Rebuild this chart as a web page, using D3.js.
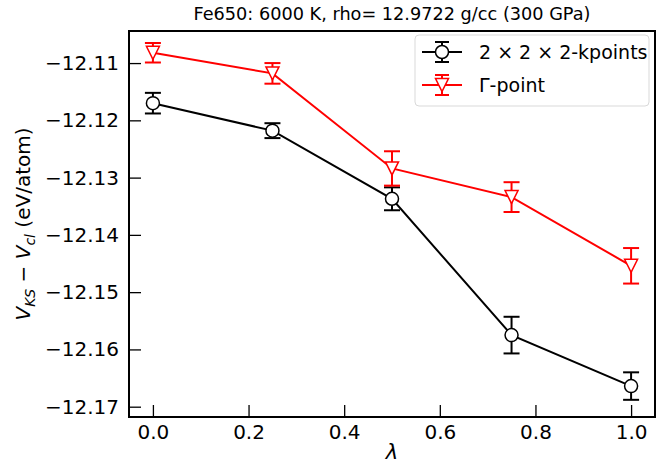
<!DOCTYPE html>
<html>
<head>
<meta charset="utf-8">
<script src="https://cdn.jsdelivr.net/npm/d3@7"></script>
<style>
  body { margin: 0; background: #fff; }
  svg { font-family: "DejaVu Sans", sans-serif; }
</style>
</head>
<body>
<div id="chart"></div>
<script>
// lambda values
const lambdas = [0.0, 0.25, 0.5, 0.75, 1.0];
// 2x2x2 k-points series
const kpointsVals = [-12.1170, -12.1218, -12.1337, -12.1575, -12.1664];
const kpointsErr = [0.0018, 0.0013, 0.0020, 0.0032, 0.0024];
// Gamma-point series
const gammaVals = [-12.1082, -12.1118, -12.1284, -12.1334, -12.1454];
const gammaErr = [0.0017, 0.0018, 0.0030, 0.0026, 0.0031];
// ticks
const xTicks = [0.0, 0.2, 0.4, 0.6, 0.8, 1.0];
const yTicks = [-12.17, -12.16, -12.15, -12.14, -12.13, -12.12, -12.11];

const W = 672, H = 465;
const margin = {top: 31, right: 17, bottom: 48, left: 129};
const width = W - margin.left - margin.right;
const height = H - margin.top - margin.bottom;

const svg = d3.select("#chart").append("svg")
    .attr("width", W)
    .attr("height", H);

const g = svg.append("g")
    .attr("transform", `translate(${margin.left},${margin.top})`);

const x = d3.scaleLinear().domain([-0.05, 1.05]).range([0, width]);
const y = d3.scaleLinear().domain([-12.1718, -12.1044]).range([height, 0]);

// Axes with inward ticks
const xAxis = g.append("g")
    .attr("transform", `translate(0,${height})`)
    .call(d3.axisBottom(x).tickValues(xTicks).tickFormat(d3.format(".1f")).tickSize(-12).tickPadding(8));
const yAxis = g.append("g")
    .call(d3.axisLeft(y).tickValues(yTicks).tickFormat(d3.format(".2f")).tickSize(-12).tickPadding(10));

[xAxis, yAxis].forEach(a => {
    a.select(".domain").remove();
    a.selectAll("line").attr("stroke", "#000").attr("stroke-width", 1.3);
    a.selectAll("text").attr("fill", "#000").style("font-size", "20px")
        .style("font-family", "DejaVu Sans, sans-serif");
});

// series definitions
const series = [
    {name: "kpoints", vals: kpointsVals, err: kpointsErr, color: "#000", marker: "circle"},
    {name: "gamma", vals: gammaVals, err: gammaErr, color: "#ff0000", marker: "tri"}
];

const line = d3.line().x(d => x(d.x)).y(d => y(d.y));
const capW = 8;

function drawMarker(sel, marker, color) {
    if (marker === "circle") {
        sel.append("circle").attr("r", 6.5)
            .attr("fill", "#fff").attr("stroke", color).attr("stroke-width", 1.5);
    } else {
        sel.append("path").attr("d", "M-6.5,-6.5L6.5,-6.5L0,6.5Z")
            .attr("fill", "#fff").attr("stroke", color).attr("stroke-width", 1.5);
    }
}

series.forEach(s => {
    const pts = lambdas.map((l, i) => ({x: l, y: s.vals[i], e: s.err[i]}));
    const sg = g.append("g");
    sg.append("path").datum(pts).attr("d", line)
        .attr("fill", "none").attr("stroke", s.color).attr("stroke-width", 2);
    const eb = sg.selectAll(".eb").data(pts).join("g").attr("class", "eb");
    eb.append("line")
        .attr("x1", d => x(d.x)).attr("x2", d => x(d.x))
        .attr("y1", d => y(d.y - d.e)).attr("y2", d => y(d.y + d.e))
        .attr("stroke", s.color).attr("stroke-width", 2);
    [-1, 1].forEach(sign => {
        eb.append("line")
            .attr("x1", d => x(d.x) - capW).attr("x2", d => x(d.x) + capW)
            .attr("y1", d => y(d.y + sign * d.e)).attr("y2", d => y(d.y + sign * d.e))
            .attr("stroke", s.color).attr("stroke-width", 2);
    });
    const mk = sg.selectAll(".mk").data(pts).join("g").attr("class", "mk")
        .attr("transform", d => `translate(${x(d.x)},${y(d.y)})`);
    drawMarker(mk, s.marker, s.color);
});

// frame
g.append("rect").attr("width", width).attr("height", height)
    .attr("fill", "none").attr("stroke", "#000").attr("stroke-width", 2);

// title
svg.append("text")
    .attr("x", margin.left + width / 2).attr("y", 20)
    .attr("text-anchor", "middle")
    .style("font-size", "17.7px")
    .text("Fe650: 6000 K, rho= 12.9722 g/cc (300 GPa)");

// x label
svg.append("text")
    .attr("x", margin.left + width / 2).attr("y", 459)
    .attr("text-anchor", "middle")
    .style("font-size", "21px").style("font-style", "italic")
    .text("λ");

// y label
const yl = svg.append("text")
    .attr("transform", `translate(30,${margin.top + height / 2}) rotate(-90)`)
    .attr("text-anchor", "middle")
    .style("font-size", "20px");
yl.append("tspan").style("font-style", "italic").text("V");
yl.append("tspan").attr("dy", 5).style("font-size", "14px").style("font-style", "italic").text("KS");
yl.append("tspan").attr("dy", -5).text(" − ");
yl.append("tspan").style("font-style", "italic").text("V");
yl.append("tspan").attr("dy", 5).style("font-size", "14px").style("font-style", "italic").text("cl");
yl.append("tspan").attr("dy", -5).text(" (eV/atom)");

// legend
const leg = svg.append("g").attr("transform", "translate(415,35)");
leg.append("rect").attr("width", 234).attr("height", 71).attr("rx", 4)
    .attr("fill", "#fff").attr("stroke", "#d9d9d9").attr("stroke-width", 1);
const legItems = [
    {label: "2 × 2 × 2-kpoints", s: series[0], yy: 17},
    {label: "Γ-point", s: series[1], yy: 50}
];
legItems.forEach(it => {
    const lg = leg.append("g").attr("transform", `translate(0,${it.yy})`);
    lg.append("line").attr("x1", 7).attr("x2", 47).attr("y1", 0).attr("y2", 0)
        .attr("stroke", it.s.color).attr("stroke-width", 2);
    lg.append("line").attr("x1", 27).attr("x2", 27).attr("y1", -10).attr("y2", 10)
        .attr("stroke", it.s.color).attr("stroke-width", 2);
    [-10, 10].forEach(v => lg.append("line").attr("x1", 20).attr("x2", 34)
        .attr("y1", v).attr("y2", v).attr("stroke", it.s.color).attr("stroke-width", 2));
    const m = lg.append("g").attr("transform", "translate(27,0)");
    drawMarker(m, it.s.marker, it.s.color);
    lg.append("text").attr("x", 64).attr("y", 7).style("font-size", "19px").text(it.label);
});
</script>
</body>
</html>
